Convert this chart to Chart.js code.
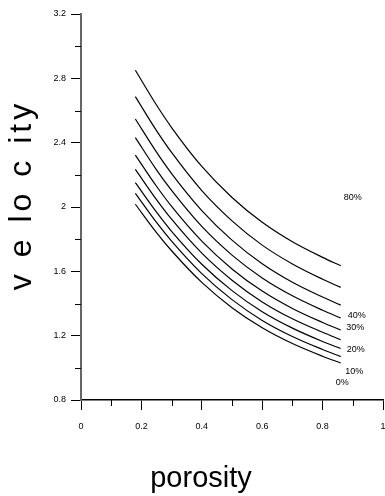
<!DOCTYPE html>
<html><head><meta charset="utf-8">
<script src="https://cdn.jsdelivr.net/npm/chart.js@4/dist/chart.umd.min.js"></script>
<style>html,body{margin:0;padding:0;background:#fff;overflow:hidden}</style>
</head><body>
<canvas id="c" width="385" height="496" style="width:385px;height:496px;display:block"></canvas>
<script>
// ---- data ----
const porosity = [0.18, 0.25, 0.3, 0.4, 0.5, 0.6, 0.7, 0.8, 0.86];
const seriesNames = ['80%', 'c2', '40%', '30%', 'c5', '20%', 'c7', '10%', '0%'];
const c1 = [2.850, 2.634, 2.494, 2.252, 2.059, 1.905, 1.784, 1.687, 1.635];
const c2 = [2.686, 2.475, 2.339, 2.102, 1.914, 1.763, 1.646, 1.551, 1.500];
const c3 = [2.547, 2.341, 2.208, 1.978, 1.794, 1.647, 1.532, 1.440, 1.390];
const c4 = [2.431, 2.231, 2.103, 1.879, 1.701, 1.559, 1.448, 1.358, 1.310];
const c5 = [2.323, 2.129, 2.004, 1.788, 1.615, 1.477, 1.369, 1.282, 1.235];
const c6 = [2.234, 2.046, 1.924, 1.713, 1.545, 1.410, 1.305, 1.221, 1.175];
const c7 = [2.151, 1.968, 1.849, 1.644, 1.480, 1.349, 1.247, 1.164, 1.120];
const c8 = [2.085, 1.904, 1.788, 1.586, 1.424, 1.295, 1.195, 1.114, 1.070];
const c9 = [2.017, 1.841, 1.728, 1.531, 1.374, 1.249, 1.151, 1.072, 1.030];
const curves = [c1, c2, c3, c4, c5, c6, c7, c8, c9];

const curveLabels = ['80%', '40%', '30%', '20%', '10%', '0%'];
const curveLabelX = [0.900, 0.913, 0.908, 0.910, 0.905, 0.865];
const curveLabelY = [2.059, 1.326, 1.252, 1.115, 0.979, 0.909];

const xTicks = [0, 0.2, 0.4, 0.6, 0.8, 1];
const xMinorTicks = [0.1, 0.3, 0.5, 0.7, 0.9];
const yTicks = [0.8, 1.2, 1.6, 2, 2.4, 2.8, 3.2];
const yMinorTicks = [1.0, 1.4, 1.8, 2.2, 2.6, 3.0];
const xTitle = 'porosity';
const yTitle = 'v e lo c ity';

const FONT = 'Arial, "Liberation Sans", sans-serif';

const extras = {
  id: 'extras',
  afterDraw(chart) {
    const ctx = chart.ctx, xs = chart.scales.x, ys = chart.scales.y;
    const ca = chart.chartArea;
    ctx.save();
    // minor ticks
    ctx.strokeStyle = '#000'; ctx.lineWidth = 1;
    xMinorTicks.forEach(v => {
      const px = Math.round(xs.getPixelForValue(v)) + 0.5;
      ctx.beginPath(); ctx.moveTo(px, ca.bottom); ctx.lineTo(px, ca.bottom + 6); ctx.stroke();
    });
    yMinorTicks.forEach(v => {
      const py = Math.round(ys.getPixelForValue(v)) + 0.5;
      ctx.beginPath(); ctx.moveTo(ca.left - 6, py); ctx.lineTo(ca.left, py); ctx.stroke();
    });
    // curve labels
    ctx.fillStyle = '#000';
    ctx.font = '9px ' + FONT;
    ctx.textAlign = 'center'; ctx.textBaseline = 'middle';
    curveLabels.forEach((t, i) => {
      ctx.fillText(t, xs.getPixelForValue(curveLabelX[i]), ys.getPixelForValue(curveLabelY[i]));
    });
    // axis titles
    ctx.font = '29px ' + FONT;
    ctx.fillText(xTitle, 201, 479);
    ctx.font = '32px ' + FONT;
    if ('letterSpacing' in ctx) ctx.letterSpacing = '4px';
    ctx.translate(22, 195);
    ctx.rotate(-Math.PI / 2);
    ctx.fillText(yTitle, 0, 0);
    ctx.restore();
  }
};

new Chart(document.getElementById('c'), {
  type: 'line',
  data: {
    datasets: curves.map((arr, i) => ({
      label: seriesNames[i],
      data: arr.map((v, j) => ({ x: porosity[j], y: v })),
      borderColor: '#000',
      borderWidth: 1.2,
      pointRadius: 0,
      fill: false,
      cubicInterpolationMode: 'monotone'
    }))
  },
  options: {
    responsive: false,
    animation: false,
    devicePixelRatio: 1,
    layout: { padding: { top: 14, right: 2, left: 0, bottom: 0 } },
    plugins: { legend: { display: false }, tooltip: { enabled: false } },
    scales: {
      x: {
        type: 'linear', min: 0, max: 1,
        afterBuildTicks: s => { s.ticks = xTicks.map(v => ({ value: v })); },
        afterFit: s => { s.height = 96; s.paddingRight = 0; s.paddingLeft = 0; },
        ticks: { color: '#000', font: { size: 9, family: FONT }, padding: 11, maxRotation: 0, callback: v => String(v) },
        grid: { drawOnChartArea: false, tickLength: 10, color: '#000' },
        border: { color: '#000', width: 1.5 }
      },
      y: {
        type: 'linear', min: 0.8, max: 3.2,
        afterBuildTicks: s => { s.ticks = yTicks.map(v => ({ value: v })); },
        afterFit: s => { s.width = 81; s.paddingTop = 0; s.paddingBottom = 0; },
        ticks: { color: '#000', font: { size: 9, family: FONT }, padding: 5, callback: v => String(v) },
        grid: { drawOnChartArea: false, tickLength: 10, color: '#000' },
        border: { color: '#666', width: 2 }
      }
    }
  },
  plugins: [extras]
});
</script>
</body></html>
